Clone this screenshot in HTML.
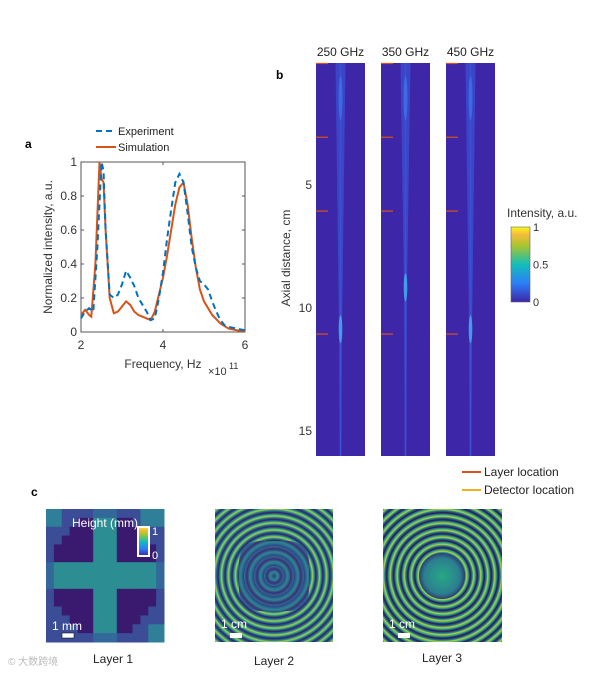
<!DOCTYPE html>
<html><head><meta charset="utf-8"><style>
body{margin:0;background:#fff;width:606px;height:678px;overflow:hidden;font-family:"Liberation Sans",Arial,sans-serif;}
svg text{font-family:"Liberation Sans",Arial,sans-serif;}
.l{position:absolute;}
</style></head><body>
<div style="position:relative;width:606px;height:678px;">
<svg id="s" width="606" height="678" style="position:absolute;left:0;top:0">
<defs>
<linearGradient id="cb" x1="0" y1="1" x2="0" y2="0">
<stop offset="0" stop-color="#3e26a8"/><stop offset="0.25" stop-color="#2c7ef7"/><stop offset="0.5" stop-color="#12beb9"/><stop offset="0.75" stop-color="#a8c52f"/><stop offset="0.9" stop-color="#f5bb3c"/><stop offset="1" stop-color="#f9fb15"/>
</linearGradient>
<linearGradient id="beam" x1="0" y1="0" x2="1" y2="0">
<stop offset="0" stop-color="#3e26a8" stop-opacity="0"/><stop offset="0.5" stop-color="#2f6fe8" stop-opacity="0.8"/><stop offset="1" stop-color="#3e26a8" stop-opacity="0"/>
</linearGradient>
</defs>
<g id="pa"></g>
<g id="pb"></g>
<g id="pc"></g>
</svg>
</div>
<script>
const NS='http://www.w3.org/2000/svg';
function mk(p,t,a,txt){const e=document.createElementNS(NS,t);for(const k in a)e.setAttribute(k,a[k]);if(txt!==undefined)e.textContent=txt;p.appendChild(e);return e;}
// ---- Panel a data ----
const expFreq=[2.0,2.1,2.2,2.3,2.4,2.5,2.55,2.6,2.7,2.8,2.9,3.0,3.1,3.2,3.3,3.4,3.5,3.6,3.7,3.8,3.9,4.0,4.1,4.2,4.3,4.4,4.5,4.6,4.7,4.8,4.9,5.0,5.1,5.2,5.3,5.4,5.5,5.6,5.8,6.0];
const expVal=[0.08,0.12,0.14,0.12,0.5,1.0,0.95,0.6,0.22,0.2,0.22,0.28,0.36,0.32,0.27,0.2,0.16,0.12,0.07,0.08,0.2,0.35,0.55,0.72,0.88,0.93,0.88,0.7,0.5,0.38,0.3,0.28,0.25,0.18,0.12,0.07,0.04,0.03,0.02,0.01];
const simFreq=[2.0,2.1,2.2,2.25,2.35,2.45,2.5,2.55,2.6,2.7,2.8,2.9,3.0,3.1,3.2,3.3,3.4,3.5,3.6,3.7,3.8,3.9,4.0,4.1,4.2,4.3,4.4,4.5,4.6,4.7,4.8,4.9,5.0,5.2,5.4,5.6,5.8,6.0];
const simVal=[0.1,0.13,0.1,0.09,0.4,1.0,0.9,0.88,0.6,0.2,0.11,0.12,0.15,0.18,0.16,0.12,0.1,0.09,0.08,0.07,0.12,0.22,0.32,0.45,0.6,0.75,0.85,0.88,0.75,0.55,0.38,0.25,0.18,0.1,0.05,0.02,0.01,0.005];
const xTicks=[2,4,6];
const yTicks=[0,0.2,0.4,0.6,0.8,1];
const yTickLabels=['0','0.2','0.4','0.6','0.8','1'];
// ---- Panel b data ----
const freqLabels=['250 GHz','350 GHz','450 GHz'];
const layerPos=[0.1,3.1,6.1,11.1];
const zTicks=[5,10,15];
const focusZ=[10.9,9.2,10.9];
const cbTicks=[0,0.5,1];

const pa=document.getElementById('pa');
const AX={l:81,r:245,t:162,b:332};
const fx=v=>AX.l+(v-2)/4*(AX.r-AX.l);
const fy=v=>AX.b-v*(AX.b-AX.t);
let e;
e=mk(pa,'rect',{x:AX.l,y:AX.t,width:AX.r-AX.l,height:AX.b-AX.t,fill:'#fff',stroke:'#555','stroke-width':1});

xTicks.forEach(t=>{mk(pa,'line',{x1:fx(t),x2:fx(t),y1:AX.b,y2:AX.b-3,stroke:'#555'});mk(pa,'line',{x1:fx(t),x2:fx(t),y1:AX.t,y2:AX.t+3,stroke:'#555'});
 e=mk(pa,'text',{x:fx(t),y:AX.b+17,'font-size':12,fill:'#333','text-anchor':'middle'},t);});
yTicks.forEach((t,i)=>{mk(pa,'line',{x1:AX.l,x2:AX.l+3,y1:fy(t),y2:fy(t),stroke:'#555'});mk(pa,'line',{x1:AX.r,x2:AX.r-3,y1:fy(t),y2:fy(t),stroke:'#555'});
 e=mk(pa,'text',{x:AX.l-4,y:fy(t)+4,'font-size':12,fill:'#333','text-anchor':'end'},yTickLabels[i]);});
function path(xs,ys){return xs.map((x,i)=>(i?'L':'M')+fx(x).toFixed(1)+','+fy(ys[i]).toFixed(1)).join('');}
e=mk(pa,'path',{d:path(simFreq,simVal),fill:'none',stroke:'#d95319','stroke-width':2});
e=mk(pa,'path',{d:path(expFreq,expVal),fill:'none',stroke:'#0072bd','stroke-width':2,'stroke-dasharray':'6,4'});
e=mk(pa,'text',{x:163,y:368,'font-size':12,fill:'#333','text-anchor':'middle'},'Frequency, Hz');
e=mk(pa,'text',{x:208,y:375,'font-size':11,fill:'#333'},'×10');
mk(pa,'text',{x:229,y:369,'font-size':9,fill:'#333'},'11');
e=mk(pa,'text',{x:52,y:247,'font-size':12,fill:'#333','text-anchor':'middle',transform:'rotate(-90 52 247)'},'Normalized intensity, a.u.');
e=mk(pa,'text',{x:25,y:148,'font-size':12,'font-weight':'bold',fill:'#000'},'a');
e=mk(pa,'line',{x1:96,x2:116,y1:131,y2:131,stroke:'#0072bd','stroke-width':2,'stroke-dasharray':'6,4'});
e=mk(pa,'text',{x:118,y:135,'font-size':11,fill:'#222'},'Experiment');
e=mk(pa,'line',{x1:96,x2:116,y1:147,y2:147,stroke:'#d95319','stroke-width':2});
e=mk(pa,'text',{x:118,y:151,'font-size':11,fill:'#222'},'Simulation');

// ---- Panel b ----
const pb=document.getElementById('pb');
const BT=61,BB=456,cm=24.6;
const zy=z=>BT+z*cm;
const colX=[316,381,446],colW=49;
colX.forEach((x,i)=>{
 e=mk(pb,'rect',{x:x,y:63,width:colW,height:BB-63,fill:'#3e26a8'});
 const cx=x+colW/2;
 mk(pb,'path',{d:`M${cx-5},63 L${cx+5},63 L${cx+1.5},${zy(focusZ[i])} L${cx+0.8},${BB} L${cx-0.8},${BB} L${cx-1.5},${zy(focusZ[i])} Z`,fill:'#3a5fe0',opacity:0.55});
 mk(pb,'line',{x1:cx,x2:cx,y1:63,y2:BB,stroke:'#3d55d8','stroke-width':1.5,opacity:0.7});
 mk(pb,'ellipse',{cx:cx,cy:zy(focusZ[i]),rx:1.8,ry:14,fill:'#3fa6f0',opacity:0.9});
 mk(pb,'ellipse',{cx:cx,cy:zy(1.5),rx:2,ry:22,fill:'#3a80f0',opacity:0.6});
 layerPos.forEach(z=>{e=mk(pb,'line',{x1:x,x2:x+12,y1:zy(z),y2:zy(z),stroke:'#d95319','stroke-width':1.2});});
 e=mk(pb,'text',{x:cx,y:56,'font-size':12,fill:'#222','text-anchor':'middle'},freqLabels[i]);
});
zTicks.forEach(t=>{e=mk(pb,'text',{x:312,y:zy(t)+5,'font-size':12,fill:'#333','text-anchor':'end'},t);});
e=mk(pb,'text',{x:290,y:258,'font-size':12,fill:'#333','text-anchor':'middle',transform:'rotate(-90 290 258)'},'Axial distance, cm');
e=mk(pb,'text',{x:276,y:79,'font-size':12,'font-weight':'bold',fill:'#000'},'b');
const CB={x:511,y:227,w:19,h:75};
e=mk(pb,'rect',{x:CB.x,y:CB.y,width:CB.w,height:CB.h,fill:'url(#cb)',stroke:'#666','stroke-width':0.6});
cbTicks.forEach(t=>{e=mk(pb,'text',{x:CB.x+CB.w+3,y:CB.y+CB.h-t*CB.h+4,'font-size':11,fill:'#333'},t);});
e=mk(pb,'text',{x:507,y:217,'font-size':12,fill:'#333'},'Intensity,  a.u.');
e=mk(pb,'line',{x1:462,x2:481,y1:472,y2:472,stroke:'#d95319','stroke-width':2});
e=mk(pb,'text',{x:484,y:476,'font-size':12,fill:'#222'},'Layer location');
e=mk(pb,'line',{x1:462,x2:481,y1:490,y2:490,stroke:'#edb120','stroke-width':2});
e=mk(pb,'text',{x:484,y:494,'font-size':12,fill:'#222'},'Detector location');

// ---- Panel c ----
const pc=document.getElementById('pc');
e=mk(pc,'text',{x:31,y:496,'font-size':12,'font-weight':'bold',fill:'#000'},'c');
// layer1 grid
const N=15,L1={x:46,y:509,w:118,h:133};
const cw=L1.w/N,ch=L1.h/N;
for(let r=0;r<N;r++)for(let c=0;c<N;c++){
 const dx=Math.abs(c-7),dy=Math.abs(r-7);
 let col='#3b4d96';
 const d=Math.hypot(dx,dy);
 if(dx<=1||dy<=1){ if(d<7)col='#2c8e92'; else col='#33699a';}
 else if(d<6.8&&(dx>=2&&dy>=2)) col='#3a1a6e';
 if((r<2&&c>11)||(r>12&&c>12)||(r<2&&c<2)) col='#2f7f99';
 mk(pc,'rect',{x:L1.x+c*cw,y:L1.y+r*ch,width:cw+0.5,height:ch+0.5,fill:col});
}
e=mk(pc,'rect',{x:L1.x,y:L1.y,width:L1.w,height:L1.h,fill:'none'});
e=mk(pc,'text',{x:72,y:527,'font-size':12,fill:'#fff'},'Height (mm)');
mk(pc,'rect',{x:138,y:527,width:11,height:29,fill:'url(#cb)',stroke:'#fff','stroke-width':2});
mk(pc,'text',{x:152,y:535,'font-size':11,fill:'#fff'},'1');
mk(pc,'text',{x:152,y:559,'font-size':11,fill:'#fff'},'0');
e=mk(pc,'text',{x:52,y:630,'font-size':12,fill:'#fff'},'1 mm');
mk(pc,'rect',{x:62,y:633,width:12,height:5,fill:'#fff',stroke:'#000','stroke-width':0.5});
e=mk(pc,'text',{x:113,y:663,'font-size':12,fill:'#222','text-anchor':'middle'},'Layer 1');
e=mk(pc,'text',{x:274,y:665,'font-size':12,fill:'#222','text-anchor':'middle'},'Layer 2');
e=mk(pc,'text',{x:442,y:662,'font-size':12,fill:'#222','text-anchor':'middle'},'Layer 3');
e=mk(pc,'text',{x:8,y:665,'font-size':10,fill:'#bbb'},'© 大数跨境');
</script>
<div class="l" style="left:215px;top:509px;width:118px;height:133px;background:repeating-radial-gradient(circle at 50% 50%,#2a2466 0px,#2a7f8f 2px,#a8d04a 3.5px,#1f9e89 5px,#3b2f7a 6.5px,#2a2466 7px);"><div style="position:absolute;left:24px;top:32px;width:70px;height:70px;border-radius:30%;background:repeating-radial-gradient(circle,#2f3f8a 0px,#2a8a8f 4px,#3b2f7a 7px,#2f6f90 10px);"></div>
<span style="position:absolute;left:6px;top:108px;color:#fff;font-size:12px;">1 cm</span><div style="position:absolute;left:15px;top:124px;width:12px;height:5px;background:#fff;"></div></div>
<div class="l" style="left:383px;top:509px;width:119px;height:133px;background:repeating-radial-gradient(circle at 50% 50%,#2a1f5e 0px,#2a8a8c 2px,#b5d33c 3px,#239a88 5px,#2a1f5e 6.5px,#2a1f5e 7px);"><div style="position:absolute;left:36px;top:44px;width:46px;height:46px;border-radius:50%;background:radial-gradient(circle,#27a886 0%,#2b7f8e 55%,#301a6a 80%);"></div>
<span style="position:absolute;left:6px;top:108px;color:#fff;font-size:12px;">1 cm</span><div style="position:absolute;left:15px;top:124px;width:12px;height:5px;background:#fff;"></div></div>
</body></html>
